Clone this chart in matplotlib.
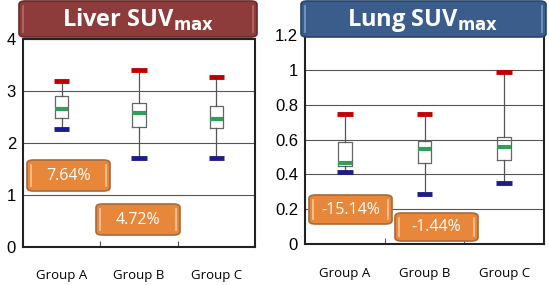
import matplotlib.pyplot as plt
from matplotlib.patches import FancyBboxPatch

plt.rcParams['font.family'] = ['Liberation Sans', 'DejaVu Sans']

groups = ['Group A', 'Group B', 'Group C']

# Liver SUVmax: min, q1, median, q3, max
liver_min = [2.27, 1.71, 1.71]
liver_q1 = [2.48, 2.31, 2.29]
liver_med = [2.65, 2.57, 2.46]
liver_q3 = [2.91, 2.76, 2.71]
liver_max = [3.19, 3.40, 3.27]

# Lung SUVmax
lung_min = [0.412, 0.287, 0.352]
lung_q1 = [0.448, 0.464, 0.483]
lung_med = [0.467, 0.546, 0.556]
lung_q3 = [0.588, 0.590, 0.613]
lung_max = [0.745, 0.745, 0.987]

liver_pct = ['7.64%', '4.72%']
lung_pct = ['-15.14%', '-1.44%']

W, H = 549, 285
fig = plt.figure(figsize=(W / 100, H / 100), dpi=100)


def px(x0, y0, x1, y1):
    # pixel box (top-left origin) -> figure fraction [left, bottom, w, h]
    return [x0 / W, 1 - y1 / H, (x1 - x0) / W, (y1 - y0) / H]


def draw_box(ax, mins, q1, med, q3, maxs, ylim, yticks, ylabels, lab_y):
    stats = []
    for i in range(len(groups)):
        stats.append(dict(whislo=mins[i], q1=q1[i], med=med[i], q3=q3[i],
                          whishi=maxs[i], label=groups[i]))
    pos = list(range(len(groups)))
    r = ax.bxp(stats, positions=pos, widths=0.17, showfliers=False,
               boxprops=dict(color='#666666', linewidth=0.9),
               whiskerprops=dict(color='#555555', linewidth=0.9),
               capprops=dict(linewidth=3.5, solid_capstyle='butt'),
               medianprops=dict(color='#2ea05a', linewidth=3),
               capwidths=0.2)
    for j, cap in enumerate(r['caps']):
        cap.set_color('#1c1c8a' if j % 2 == 0 else '#c00000')
        cap.set_zorder(4)
    ax.set_xlim(-0.5, 2.5)
    ax.set_ylim(*ylim)
    ax.set_yticks(yticks)
    ax.set_yticklabels(ylabels, fontsize=12)
    ax.set_xticks([0.5, 1.5])
    ax.set_xticklabels([])
    ax.tick_params(axis='x', direction='in', length=4, color='#555555')
    ax.tick_params(axis='y', length=0, pad=5)
    for k, g in enumerate(groups):
        ax.text(k, lab_y, g, transform=ax.get_xaxis_transform(),
                ha='center', va='center', fontsize=9.5, family='Open Sans')
    ax.grid(axis='y', color='#555555', linewidth=0.8)
    ax.set_axisbelow(True)
    for s in ax.spines.values():
        s.set_linewidth(1.5)
        s.set_color('#222222')


ax1 = fig.add_axes(px(23, 39, 255, 247))
draw_box(ax1, liver_min, liver_q1, liver_med, liver_q3, liver_max,
         (0, 4), [0, 1, 2, 3, 4], ['0', '1', '2', '3', '4'], -0.135)
ax2 = fig.add_axes(px(305, 35, 544, 244))
draw_box(ax2, lung_min, lung_q1, lung_med, lung_q3, lung_max,
         (0, 1.2), [0, 0.2, 0.4, 0.6, 0.8, 1.0, 1.2],
         ['0', '0.2', '0.4', '0.6', '0.8', '1', '1.2'], -0.139)


def label_box(x0, y0, x1, y1, text, face, edge, fs, inner='#f6c99a'):
    b = px(x0, y0, x1, y1)
    p = FancyBboxPatch((b[0], b[1]), b[2], b[3],
                       boxstyle='round,pad=0,rounding_size=0.012',
                       transform=fig.transFigure, facecolor=face,
                       edgecolor=edge, linewidth=1.2, zorder=10)
    fig.add_artist(p)
    # light inner edges
    for xx in (x0 + 4, x1 - 4):
        fig.add_artist(plt.Line2D([xx / W, xx / W],
                                  [1 - (y1 - 5) / H, 1 - (y0 + 5) / H],
                                  transform=fig.transFigure, color=inner,
                                  linewidth=1.2, zorder=11))
    return fig.text((x0 + x1) / 2 / W, 1 - (y0 + y1) / 2 / H, text,
                    ha='center', va='center', color='white', fontsize=fs,
                    family='Open Sans', zorder=12)


label_box(19, 1, 257, 37, '', '#8e3b3b', '#6a2a2a', 17, inner='#b86a6a')
label_box(301, 1, 546, 37, '', '#3b5d8c', '#2a4468', 17, inner='#7a9ccc')
fig.text(138 / W, 1 - 20 / H, r'Liver SUV$_{\mathbf{max}}$', ha='center',
         va='center', color='white', fontsize=17, fontweight='bold',
         family='Open Sans', zorder=12)
fig.text(423 / W, 1 - 20 / H, r'Lung SUV$_{\mathbf{max}}$', ha='center',
         va='center', color='white', fontsize=17, fontweight='bold',
         family='Open Sans', zorder=12)

orange, oedge = '#e8863a', '#a86a3a'
label_box(27, 160, 110, 191, liver_pct[0], orange, oedge, 11.5)
label_box(96, 204, 180, 235, liver_pct[1], orange, oedge, 11.5)
label_box(309, 195, 392, 224, lung_pct[0], orange, oedge, 11.5)
label_box(395, 213, 478, 241, lung_pct[1], orange, oedge, 11.5)

fig.savefig('out.png', dpi=100)
